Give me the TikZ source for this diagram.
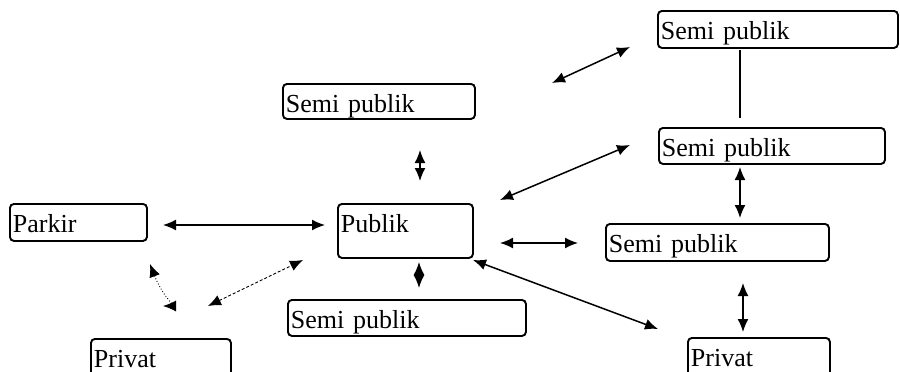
\documentclass[tikz,border=0pt]{standalone}
\usepackage{fontspec}
\setmainfont{Liberation Serif}
\usetikzlibrary{arrows.meta}
\begin{document}
\begin{tikzpicture}[x=1pt,y=-1pt,
  zone/.style={draw, line width=1.9pt, rounded corners=4pt, anchor=north west,
    inner xsep=3pt, inner ysep=0pt, align=left, font=\fontsize{26}{28}\selectfont,
    text height=29pt},
  link/.style={line width=1.5pt, {Latex[length=13pt,width=11pt]}-{Latex[length=13pt,width=11pt]}},
  plain/.style={line width=1.5pt}]
\useasboundingbox (0,0) rectangle (900,372);
\fill[white] (0,0) rectangle (900,372);
% boxes
\node[zone, text width=186pt, text depth=6pt] (sp1) at (282,83) {Semi publik};
\node[zone, text width=234pt, text depth=8pt] (sp2) at (657,10) {Semi publik};
\node[zone, text width=220pt, text depth=7pt] (sp3) at (658,127) {Semi publik};
\node[zone, text width=217pt, text depth=8pt] (sp4) at (605,223) {Semi publik};
\node[zone, text width=232pt, text depth=7pt] (sp5) at (287,299) {Semi publik};
\node[zone, text width=131pt, text depth=8pt] (parkir) at (9,203) {Parkir};
\node[zone, text width=129pt, text depth=25pt] (publik) at (337,203) {Publik};
\node[zone, text width=134pt, text depth=20pt] (privL) at (90,338) {Privat};
\node[zone, text width=136pt, text depth=20pt] (privR) at (687,337) {Privat};
% connector end points
\coordinate (a1) at (163,225); \coordinate (a2) at (325,225);
\coordinate (b1) at (420,150); \coordinate (b2) at (420,181);
\coordinate (c1) at (552,83);  \coordinate (c2) at (630,47);
\coordinate (d1) at (740,50);  \coordinate (d2) at (740,118);
\coordinate (e1) at (500,200); \coordinate (e2) at (630,145);
\coordinate (f1) at (740,167); \coordinate (f2) at (740,218);
\coordinate (g1) at (500,243); \coordinate (g2) at (578,243);
\coordinate (h1) at (473,260); \coordinate (h2) at (658,329);
\coordinate (i1) at (419,262); \coordinate (i2) at (419,288);
\coordinate (j1) at (743,283); \coordinate (j2) at (743,332);
\coordinate (k1) at (150,264); \coordinate (k2) at (163,306);
\coordinate (l1) at (208,306); \coordinate (l2) at (303,260);
% connectors
\draw[link] (a1) -- (a2);
\draw[link] (b1) -- (b2);
\draw[link] (c1) -- (c2);
\draw[plain] (d1) -- (d2);
\draw[link] (e1) -- (e2);
\draw[link] (f1) -- (f2);
\draw[link] (g1) -- (g2);
\draw[link] (h1) -- (h2);
\draw[link] (i1) -- (i2);
\draw[link] (j1) -- (j2);
\draw[link, line width=0.9pt, dotted] (k1) .. controls (160,290) and (172,306) .. (k2);
\draw[link, line width=0.9pt, dashed, dash pattern=on 3pt off 2pt] (l1) -- (l2);
\end{tikzpicture}
\end{document}
